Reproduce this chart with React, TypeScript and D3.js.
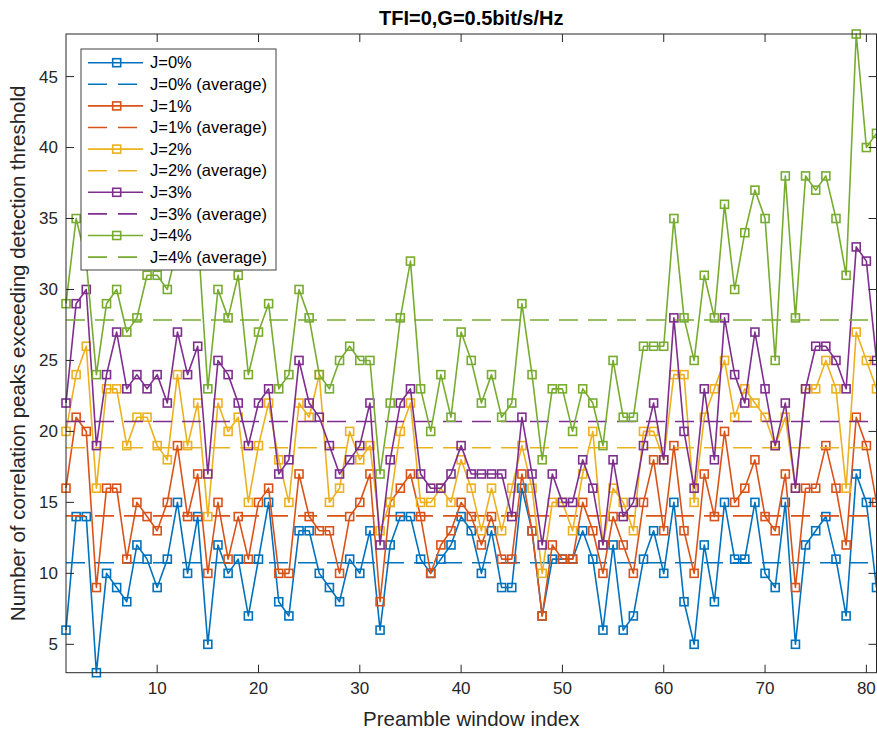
import React, { useEffect, useRef } from 'react'
import * as d3 from 'd3'

// preamble window index 1..81
const windowIndex = d3.range(1, 82)

const j0 = [6, 14, 14, 3, 10, 9, 8, 12, 11, 9, 11, 15, 10, 14, 5, 12, 10, 11, 7, 11, 15, 8, 7, 13, 13, 10, 9,
  8, 11, 10, 13, 6, 12, 14, 14, 11, 10, 11, 12, 14, 13, 10, 13, 9, 9, 16, 13, 7, 11, 11, 11, 13, 11, 6,
  12, 6, 7, 11, 13, 10, 15, 8, 5, 12, 8, 15, 11, 11, 15, 10, 9, 15, 5, 12, 13, 14, 11, 7, 17, 15, 9]
const j1 = [16, 21, 20, 9, 16, 16, 11, 15, 14, 13, 15, 19, 14, 17, 10, 15, 11, 14, 11, 15, 16, 10, 10, 17, 14, 13, 13,
  10, 14, 15, 17, 8, 15, 16, 17, 14, 10, 12, 13, 15, 14, 12, 14, 11, 11, 17, 13, 7, 12, 11, 11, 15, 13, 10,
  14, 12, 10, 15, 18, 13, 19, 13, 10, 17, 14, 20, 15, 16, 18, 14, 13, 17, 9, 16, 16, 19, 16, 12, 21, 19, 15]
const j2 = [20, 24, 26, 16, 23, 23, 19, 21, 21, 19, 18, 24, 19, 22, 14, 22, 20, 21, 15, 19, 22, 18, 15, 22, 21, 24, 15,
  16, 20, 18, 19, 13, 15, 20, 22, 15, 15, 16, 15, 18, 16, 13, 16, 13, 16, 19, 16, 10, 15, 15, 13, 17, 20, 12,
  16, 15, 13, 20, 20, 18, 24, 24, 15, 21, 23, 25, 21, 23, 22, 21, 19, 21, 16, 23, 23, 25, 23, 16, 27, 25, 23]
const j3 = [22, 29, 30, 19, 24, 27, 23, 24, 23, 24, 22, 27, 24, 26, 17, 25, 24, 22, 19, 22, 23, 17, 18, 25, 22, 21, 19,
  17, 18, 19, 22, 12, 18, 22, 23, 17, 16, 16, 17, 19, 17, 17, 17, 17, 14, 21, 17, 12, 17, 15, 15, 18, 16, 12,
  18, 14, 15, 19, 22, 18, 28, 20, 16, 23, 18, 28, 24, 22, 27, 23, 19, 22, 16, 23, 26, 26, 25, 23, 33, 32, 25]
const j4 = [29, 35, 32, 24, 29, 30, 27, 28, 31, 31, 30, 33, 32, 34, 23, 30, 28, 31, 24, 27, 29, 23, 24, 30, 28, 24, 23,
  25, 26, 25, 25, 17, 22, 28, 32, 23, 20, 24, 21, 27, 25, 22, 24, 21, 22, 29, 24, 18, 23, 23, 20, 23, 22, 19,
  25, 21, 21, 26, 26, 26, 35, 28, 25, 31, 28, 36, 30, 34, 37, 35, 25, 38, 28, 38, 37, 38, 35, 31, 48, 40, 41]

const seriesValues = [j0, j1, j2, j3, j4]
const seriesNames = ['J=0%', 'J=1%', 'J=2%', 'J=3%', 'J=4%']
const averages = [10.75, 14.05, 18.85, 20.7, 27.85]
const colors = ['#0072BD', '#D95319', '#EDB120', '#7E2F8E', '#77AC30']

const xTicks = [10, 20, 30, 40, 50, 60, 70, 80]
const yTicks = [5, 10, 15, 20, 25, 30, 35, 40, 45]

const FONT = '"Liberation Sans", Arial, Helvetica, sans-serif'
const AXIS = '#262626'

export default function App() {
  const svgRef = useRef<SVGSVGElement>(null)
  const width = 877
  const height = 733

  useEffect(() => {
    const svg = d3.select(svgRef.current)
    svg.selectAll('*').remove()

    const margin = { top: 34, right: 0.5, bottom: 60.3, left: 66 }
    const innerWidth = width - margin.left - margin.right
    const innerHeight = height - margin.top - margin.bottom

    const x = d3.scaleLinear().domain([1, 81]).range([0, innerWidth])
    const y = d3.scaleLinear().domain([3, 48]).range([innerHeight, 0])

    const g = svg.append('g')
      .attr('transform', `translate(${margin.left},${margin.top})`)

    // clip so nothing leaks past the axes box
    svg.append('defs').append('clipPath').attr('id', 'plot-clip')
      .append('rect').attr('x', -6).attr('y', -6).attr('width', innerWidth + 12).attr('height', innerHeight + 12)

    const plot = g.append('g').attr('clip-path', 'url(#plot-clip)')

    const line = d3.line<number>()
      .x((d, i) => x(windowIndex[i]))
      .y(d => y(d))

    seriesValues.forEach((vals, s) => {
      plot.append('path')
        .datum(vals)
        .attr('d', line)
        .attr('fill', 'none')
        .attr('stroke', colors[s])
        .attr('stroke-width', 1.6)
        .attr('stroke-linejoin', 'round')

      plot.selectAll(`.marker-${s}`)
        .data(vals)
        .enter().append('rect')
        .attr('class', `marker-${s}`)
        .attr('x', (d, i) => x(windowIndex[i]) - 4)
        .attr('y', d => y(d) - 4)
        .attr('width', 8)
        .attr('height', 8)
        .attr('fill', 'none')
        .attr('stroke', colors[s])
        .attr('stroke-width', 1.6)

      plot.append('line')
        .attr('x1', x(1))
        .attr('x2', x(81))
        .attr('y1', y(averages[s]))
        .attr('y2', y(averages[s]))
        .attr('stroke', colors[s])
        .attr('stroke-width', 1.6)
        .attr('stroke-dasharray', '19,10')
    })

    // axes box
    g.append('rect')
      .attr('width', innerWidth)
      .attr('height', innerHeight)
      .attr('fill', 'none')
      .attr('stroke', AXIS)
      .attr('stroke-width', 1)

    const tickLen = 8
    xTicks.forEach(t => {
      g.append('line').attr('x1', x(t)).attr('x2', x(t)).attr('y1', innerHeight).attr('y2', innerHeight - tickLen)
        .attr('stroke', AXIS)
      g.append('line').attr('x1', x(t)).attr('x2', x(t)).attr('y1', 0).attr('y2', tickLen)
        .attr('stroke', AXIS)
      g.append('text')
        .attr('x', x(t))
        .attr('y', innerHeight + 21)
        .attr('text-anchor', 'middle')
        .style('font-family', FONT)
        .style('font-size', '17px')
        .style('fill', AXIS)
        .text(t)
    })
    yTicks.forEach(t => {
      g.append('line').attr('x1', 0).attr('x2', tickLen).attr('y1', y(t)).attr('y2', y(t))
        .attr('stroke', AXIS)
      g.append('line').attr('x1', innerWidth).attr('x2', innerWidth - tickLen).attr('y1', y(t)).attr('y2', y(t))
        .attr('stroke', AXIS)
      g.append('text')
        .attr('x', -8)
        .attr('y', y(t))
        .attr('dy', '0.35em')
        .attr('text-anchor', 'end')
        .style('font-family', FONT)
        .style('font-size', '17px')
        .style('fill', AXIS)
        .text(t)
    })

    // labels
    svg.append('text')
      .attr('x', margin.left + innerWidth / 2)
      .attr('y', 25)
      .attr('text-anchor', 'middle')
      .style('font-family', FONT)
      .style('font-size', '20px')
      .style('font-weight', 'bold')
      .style('fill', '#000')
      .text('TFI=0,G=0.5bit/s/Hz')

    svg.append('text')
      .attr('x', margin.left + innerWidth / 2)
      .attr('y', 726)
      .attr('text-anchor', 'middle')
      .style('font-family', FONT)
      .style('font-size', '20.5px')
      .style('fill', AXIS)
      .text('Preamble window index')

    svg.append('text')
      .attr('transform', `translate(25,${margin.top + innerHeight / 2}) rotate(-90)`)
      .attr('text-anchor', 'middle')
      .style('font-family', FONT)
      .style('font-size', '20.5px')
      .style('fill', AXIS)
      .text('Number of correlation peaks exceeding detection threshold')

    // legend
    const legend = svg.append('g').attr('transform', 'translate(81,49)')
    legend.append('rect')
      .attr('width', 195)
      .attr('height', 221)
      .attr('fill', '#fff')
      .attr('stroke', '#404040')
      .attr('stroke-width', 1)

    const rowH = 21.6
    seriesNames.forEach((name, s) => {
      const y1 = 13.7 + (2 * s) * rowH
      const y2 = y1 + rowH
      legend.append('line')
        .attr('x1', 7).attr('x2', 62).attr('y1', y1).attr('y2', y1)
        .attr('stroke', colors[s]).attr('stroke-width', 1.6)
      legend.append('rect')
        .attr('x', 31.7).attr('y', y1 - 4).attr('width', 8).attr('height', 8)
        .attr('fill', 'none').attr('stroke', colors[s]).attr('stroke-width', 1.6)
      legend.append('text')
        .attr('x', 69).attr('y', y1).attr('dy', '0.35em')
        .style('font-family', FONT).style('font-size', '16.5px').style('fill', '#000')
        .text(name)
      legend.append('line')
        .attr('x1', 7).attr('x2', 62).attr('y1', y2).attr('y2', y2)
        .attr('stroke', colors[s]).attr('stroke-width', 1.6)
        .attr('stroke-dasharray', '19,11')
      legend.append('text')
        .attr('x', 69).attr('y', y2).attr('dy', '0.35em')
        .style('font-family', FONT).style('font-size', '16.5px').style('fill', '#000')
        .text(`${name} (average)`)
    })
  }, [])

  return (
    <svg
      ref={svgRef}
      width={width}
      height={height}
      style={{ position: 'absolute', left: 0, top: 0, background: '#fff' }}
    />
  )
}
